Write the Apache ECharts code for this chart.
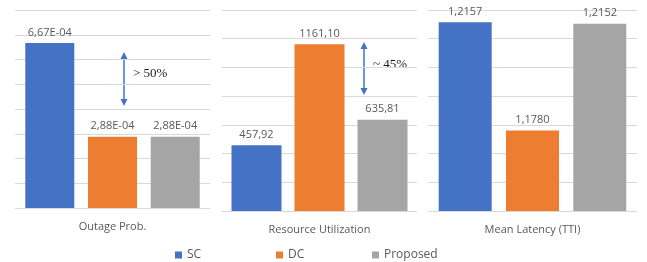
<!DOCTYPE html>
<html>
<head>
<meta charset="utf-8">
<style>
  html, body { margin: 0; padding: 0; background: #fff; }
  #main { width: 647px; height: 262px; }
</style>
<script src="https://cdn.jsdelivr.net/npm/echarts@6/dist/echarts.min.js"></script>
</head>
<body>
<div id="main"></div>
<script>
// 数据
const seriesNames = ['SC', 'DC', 'Proposed'];
const panelNames = ['Outage Prob.', 'Resource Utilization', 'Mean Latency (TTI)'];
const outageProb = [6.67e-4, 2.88e-4, 2.88e-4];
const resourceUtil = [457.92, 1161.10, 635.81];
const meanLatency = [1.2157, 1.1780, 1.2152];
const colors = ['#4472C4', '#ED7D31', '#A5A5A5'];

const chart = echarts.init(document.getElementById('main'));

const fmtOutage = (v) => {
  const [m, e] = v.toExponential(2).split('e');
  const exp = Math.abs(+e).toString().padStart(2, '0');
  return m.replace('.', ',') + 'E' + (+e < 0 ? '-' : '+') + exp;
};
const fmtUtil = (v) => v.toFixed(2).replace('.', ',');
const fmtLat = (v) => v.toFixed(4).replace('.', ',');

const panels = [
  { data: outageProb, fmt: fmtOutage, min: 0, max: 8e-4, interval: 1e-4, barWidth: 49, barGap: '28%' },
  { data: resourceUtil, fmt: fmtUtil, min: 0, max: 1400, interval: 200, barWidth: 50, barGap: '26%' },
  { data: meanLatency, fmt: fmtLat, min: 1.15, max: 1.22, interval: 0.01, barWidth: 53, barGap: '27%' },
];

const grids = [
  { left: 15, top: 10, width: 195, height: 198 },
  { left: 222, top: 10, width: 195, height: 201 },
  { left: 428, top: 10, width: 209, height: 201 },
];

const xAxes = panelNames.map((name, i) => ({
  type: 'category',
  gridIndex: i,
  data: [name],
  axisLine: { show: false },
  axisTick: { show: false },
  axisLabel: { color: '#595959', fontSize: 11, fontFamily: 'Open Sans', margin: 13 },
}));

const yAxes = panels.map((p, i) => ({
  type: 'value',
  gridIndex: i,
  min: p.min,
  max: p.max,
  interval: p.interval,
  axisLabel: { show: false },
  axisLine: { show: false },
  axisTick: { show: false },
  splitLine: { lineStyle: { color: '#D9D9D9', width: 1 } },
}));

const series = [];
panels.forEach((p, i) => {
  seriesNames.forEach((name, j) => {
    series.push({
      name: name,
      type: 'bar',
      xAxisIndex: i,
      yAxisIndex: i,
      barWidth: p.barWidth,
      barGap: p.barGap,
      itemStyle: { color: colors[j] },
      label: {
        show: true,
        position: 'top',
        distance: 5,
        color: '#595959',
        fontSize: 11,
        fontFamily: 'Open Sans',
        formatter: (d) => p.fmt(d.value),
      },
      data: [p.data[j]],
    });
  });
});

const legendLeft = [170, 271, 367];
const legends = seriesNames.map((name, j) => ({
  data: [name],
  left: legendLeft[j],
  top: 244,
  itemWidth: 7,
  itemHeight: 7,
  itemGap: 4,
  icon: 'rect',
  textStyle: { color: '#595959', fontSize: 12, fontFamily: 'Open Sans' },
  selectedMode: false,
}));

// 箭头标注
const arrow = (x, y1, y2) => ([
  { type: 'line', shape: { x1: x, y1: y1 + 5, x2: x, y2: y2 - 5 }, style: { stroke: '#4472C4', lineWidth: 1.5 } },
  { type: 'polygon', shape: { points: [[x, y1], [x - 3.5, y1 + 7], [x + 3.5, y1 + 7]] }, style: { fill: '#4472C4' } },
  { type: 'polygon', shape: { points: [[x, y2], [x - 3.5, y2 - 7], [x + 3.5, y2 - 7]] }, style: { fill: '#4472C4' } },
]);

const graphic = [
  ...arrow(124, 52, 106),
  { type: 'text', left: 133, top: 67, style: { text: '> 50%', fill: '#1a1a1a', font: '13px "Liberation Serif", serif' } },
  ...arrow(364, 42, 95),
  { type: 'text', left: 373, top: 58, style: { text: '~ 45%', fill: '#1a1a1a', font: '13px "Liberation Serif", serif' } },
];

chart.setOption({
  animation: false,
  grid: grids,
  xAxis: xAxes,
  yAxis: yAxes,
  legend: legends,
  series: series,
  graphic: graphic,
});
</script>
</body>
</html>
